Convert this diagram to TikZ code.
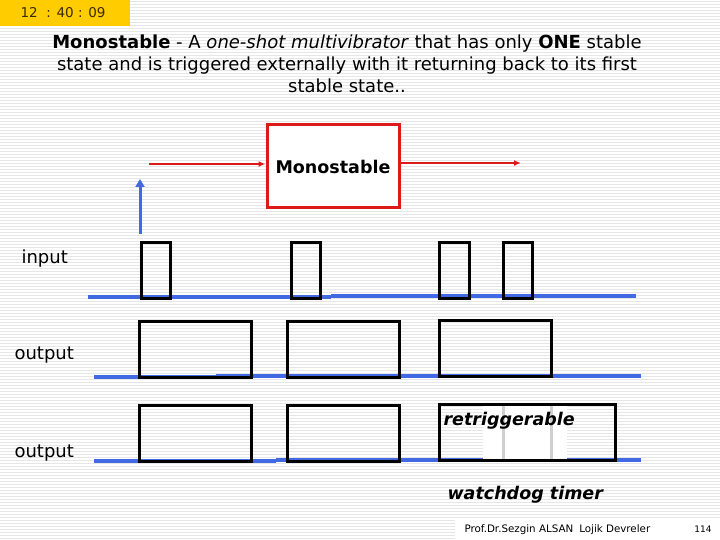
\documentclass[tikz,border=0pt]{standalone}
\usepackage{fontspec}
\setmainfont{DejaVu Sans}
\usepackage{xcolor}
\definecolor{sBlue}{HTML}{4169E1}
\definecolor{sRed}{HTML}{DD1A1A}
\definecolor{sGold}{HTML}{FFCC00}
\definecolor{sBrown}{HTML}{3A2A00}
\definecolor{sStripe}{HTML}{E6E6E6}
\definecolor{sGray}{HTML}{D0D0D0}
\usepackage{tikz}
\usetikzlibrary{arrows.meta, positioning}

\begin{document}
\begin{tikzpicture}[x=1pt, y=-1pt,
  pulse/.style={draw=black, line width=3pt},
  level/.style={sBlue, line width=4pt},
  sig/.style={sRed, line width=2.2pt, -{Latex[length=7pt, width=6pt]}},
  lbl/.style={font=\fontsize{18}{21}\selectfont, anchor=west},
  emph/.style={font=\bfseries\itshape\fontsize{17.5}{21}\selectfont, anchor=west}]
\useasboundingbox (0,0) rectangle (720,540);
\fill[white] (0,0) rectangle (720,540);
\foreach \y in {1,4,...,540}
  \draw[sStripe, line width=0.8pt] (0,\y) -- (720,\y);

% clock
\fill[sGold] (0,0) rectangle (130,26);
\node[font=\fontsize{13.5}{15}\selectfont, color=sBrown] (clock) at (63,13) {12\ \ : 40 : 09};

% title
\node[align=center, font=\fontsize{18}{22}\selectfont] (title) at (347,64)
  {\textbf{Monostable} - A \textit{one-shot multivibrator} that has only \textbf{ONE} stable\\
   state and is triggered externally with it returning back to its first\\
   stable state..};

% block
\node[draw=sRed, line width=3pt, fill=white, minimum width=132pt, minimum height=83pt,
  font=\bfseries\fontsize{17.5}{20}\selectfont] (mono) at (333,166.5) {Monostable};
\coordinate (inStart) at (149,164);
\coordinate (outEnd) at (521,163);
\draw[sig] (inStart) -- (inStart -| mono.west);
\draw[sig] (mono.east |- outEnd) -- (outEnd);

% trigger
\coordinate (trigBase) at (140,234);
\coordinate (trigTip) at (140,179);
\draw[sBlue, line width=3pt, -{Triangle[length=8pt, width=9pt]}] (trigBase) -- (trigTip);

% labels
\node[lbl] (inLbl) at (18,259) {input};
\node[lbl] (outLbl) at (11,355) {output};
\node[lbl] (wdLbl) at (11,453) {output};

% input
\draw[level] (88,297) -- (331,297);
\draw[level] (331,296) -- (636,296);
\draw[pulse] (141,242) rectangle (170,298);
\draw[pulse] (291,242) rectangle (320,298);
\draw[pulse] (439,242) rectangle (469,298);
\draw[pulse] (503,242) rectangle (532,298);

% output
\draw[level] (94,377) -- (216,377);
\draw[level] (216,376) -- (641,376);
\draw[pulse] (139,321) rectangle (251,377);
\draw[pulse] (287,321) rectangle (399,377);
\draw[pulse] (439,320) rectangle (551,376);

% retriggerable output
\draw[level] (94,461) -- (276,461);
\draw[level] (276,460) -- (641,460);
\draw[pulse] (139,405) rectangle (251,461);
\draw[pulse] (287,405) rectangle (399,461);
\fill[white] (483,405) rectangle (567,459);
\draw[sGray, line width=3pt] (503,405) -- (503,459);
\draw[sGray, line width=3pt] (551,405) -- (551,459);
\draw[pulse] (439,404) rectangle (615,460);
\node[emph] (retrig) at (440,421) {retriggerable};
\node[emph] (watchdog) at (444,495) {watchdog timer};

% footer
\fill[white] (455,520) rectangle (720,540);
\node[font=\fontsize{10.3}{12}\selectfont, anchor=west] (author) at (461,530)
  {Prof.Dr.Sezgin ALSAN\hspace{6pt}Lojik Devreler};
\node[font=\fontsize{9}{11}\selectfont] (page) at (703,529) {114};
\end{tikzpicture}
\end{document}
